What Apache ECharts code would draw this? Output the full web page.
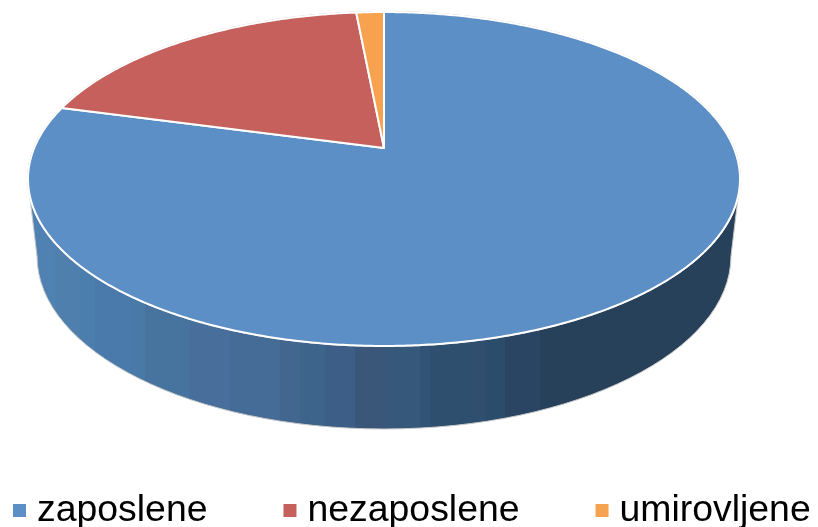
<!DOCTYPE html>
<html><head><meta charset="utf-8">
<style>html,body{margin:0;padding:0;background:#fff}#c{width:818px;height:527px}</style>
<script src="https://cdn.jsdelivr.net/npm/echarts@6/dist/echarts.min.js"></script>
</head><body><div id="c"></div>
<script>
const categories = ['zaposlene', 'nezaposlene', 'umirovljene'];
const values = [79.2, 19.3, 1.5];
const colors = ['#5B8FC6', '#C5605C', '#F6A24F'];

const total = values.reduce((a, b) => a + b, 0);
const cx = 384, apexY = 148, persp = -0.1856, rX = 349.8, rY = 161.2;
const sideCy = 256, sideRx = 347, sideRy = 173, topCy = 179, topRx = 356, topRy = 167;
const bandEnds = [55, 80, 95, 130, 145, 190, 230, 280, 300, 325, 355, 385, 420, 430, 475, 485, 505, 540, 740];
const bandColors = ['#4F82B2', '#4E7FAD', '#4C7EAD', '#4A7AAB', '#4979A6', '#47739F', '#486F9B', '#446C96', '#436690',
  '#3D648B', '#3D5E86', '#3A5779', '#36587B', '#315476', '#2E4F6E', '#304E6D', '#2C4C6B', '#2A4463', '#28415A'];

function rim(t) {
  const X = Math.sin(t), Y = -Math.cos(t), w = 1 + persp * Y;
  return [cx + rX * X / w, apexY + rY * Y / w];
}
function sliceRange(i) {
  let s = 0;
  for (let k = 0; k < i; k++) s += values[k];
  return [s / total * 2 * Math.PI, (s + values[i]) / total * 2 * Math.PI];
}
function sidePieces() {
  const x0 = 28, span = 712, stops = [];
  let prev = 0;
  bandEnds.forEach((end, k) => {
    const e = (end - x0) / span;
    stops.push({offset: prev, color: bandColors[k]}, {offset: e, color: bandColors[k]});
    prev = e;
  });
  const gradient = new echarts.graphic.LinearGradient(x0, 0, x0 + span, 0, stops, true);
  const style = {fill: gradient, stroke: '#c9c9c9', lineWidth: 1};
  return [
    {type: 'ellipse', shape: {cx: cx, cy: sideCy, rx: sideRx, ry: sideRy}, style: style},
    {type: 'polygon', shape: {points: [[cx - topRx + 2, 198], [cx - sideRx, sideCy], [cx + sideRx, sideCy], [cx + topRx - 2, 198]]},
     style: {fill: gradient}},
    {type: 'line', shape: {x1: cx - topRx + 2, y1: 198, x2: cx - sideRx, y2: sideCy}, style: {stroke: '#c9c9c9', lineWidth: 1}},
    {type: 'line', shape: {x1: cx + topRx - 2, y1: 198, x2: cx + sideRx, y2: sideCy}, style: {stroke: '#c9c9c9', lineWidth: 1}},
    {type: 'ellipse', shape: {cx: cx, cy: topCy, rx: topRx + 0.5, ry: topRy + 0.5}, style: {fill: 'none', stroke: '#c9c9c9', lineWidth: 1}}
  ];
}
function makeRender(i) {
  return function () {
    const range = sliceRange(i), pts = [[cx, apexY]];
    const n = Math.max(4, Math.ceil((range[1] - range[0]) * 120));
    for (let k = 0; k <= n; k++) pts.push(rim(range[0] + (range[1] - range[0]) * k / n));
    const slice = {type: 'polygon', shape: {points: pts},
      style: {fill: colors[i], stroke: '#ffffff', lineWidth: 2, lineJoin: 'round'}};
    return {type: 'group', children: i === 0 ? sidePieces().concat([slice]) : [slice]};
  };
}
const chart = echarts.init(document.getElementById('c'), null, {renderer: 'canvas'});
chart.setOption({
  animation: false,
  backgroundColor: '#ffffff',
  color: colors,
  legend: {
    data: categories, left: 8, top: 487, padding: 5, itemWidth: 13, itemHeight: 13, itemGap: 76,
    icon: 'rect', selectedMode: false,
    textStyle: {fontFamily: 'Liberation Sans', fontSize: 37.4, color: '#000', padding: [12, 0, 0, 6]}
  },
  series: categories.map((name, i) => ({
    type: 'custom', name: name, coordinateSystem: 'none', silent: true,
    itemStyle: {color: colors[i]},
    data: [values[i]], renderItem: makeRender(i)
  }))
});
</script></body></html>
